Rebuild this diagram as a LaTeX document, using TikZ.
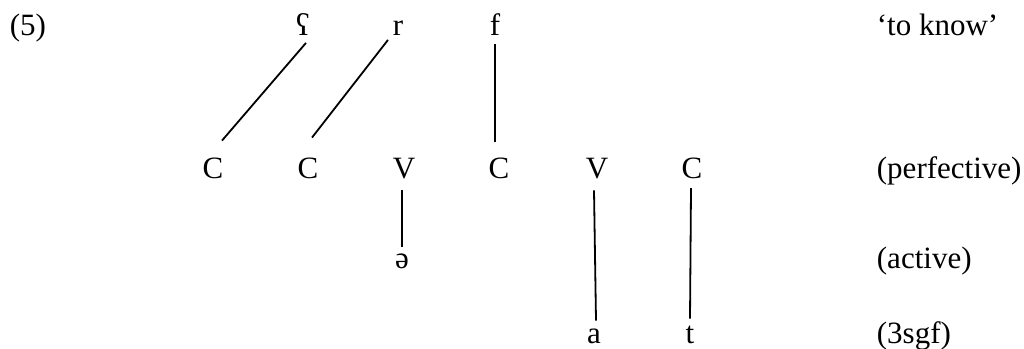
\documentclass[tikz,border=0pt]{standalone}
\usepackage{fontspec}
\setmainfont{Liberation Serif}

\begin{document}
\begin{tikzpicture}[x=1pt, y=-1pt, line width=1.8pt, line cap=butt,
  seg/.style={anchor=base, inner sep=0pt, font=\rmfamily\fontsize{31}{37}\selectfont},
  gloss/.style={anchor=base west, inner sep=0pt, font=\rmfamily\fontsize{31}{37}\selectfont}]

  %% ════ 编号 ════
  \node[gloss] (num) at (9,35) {(5)};

  %% ════ 词根层：ʕ r f ════
  \node[seg] (ain) at (303,35) {ʕ};
  \node[seg] (r)   at (398,35) {r};
  \node[seg] (f)   at (495,35) {f};

  %% ════ 骨架层：C C V C V C ════
  \node[seg] (c1) at (213,178) {C};
  \node[seg] (c2) at (308,178) {C};
  \node[seg] (v1) at (404,178) {V};
  \node[seg] (c3) at (499,178) {C};
  \node[seg] (v2) at (597,178) {V};
  \node[seg] (c4) at (692,178) {C};

  %% ════ 元音 / 后缀 ════
  \node[seg] (schwa) at (402,268) {ə};
  \node[seg] (a)     at (594,343) {a};
  \node[seg] (t)     at (690,343) {t};

  %% ════ 右侧注释 ════
  \node[gloss] (know)  at (876,35)  {‘to know’};
  \node[gloss] (perf)  at (876,178) {(perfective)};
  \node[gloss] (act)   at (876,268) {(active)};
  \node[gloss] (agr)   at (876,343) {(3sgf)};

  %% ════ 连线 ════
  \draw ([xshift=3pt,yshift=-7pt]ain.south) -- ([xshift=9pt,yshift=16pt]c1.north);
  \draw ([xshift=-10pt,yshift=-4pt]r.south) -- ([xshift=4pt,yshift=19pt]c2.north);
  \draw ([yshift=-8pt]f.south) -- ([xshift=-4pt,yshift=15pt]c3.north);
  \draw ([xshift=-2pt,yshift=-11pt]v1.south) -- ([yshift=5pt]schwa.north);
  \draw ([xshift=-3pt,yshift=-11pt]v2.south) -- ([xshift=2pt,yshift=7pt]a.north);
  \draw ([xshift=-1pt,yshift=-9pt]c4.south) -- ([yshift=6pt]t.north);

  % 画布固定
  \pgfresetboundingbox
  \path[use as bounding box] (0,0) rectangle (1024,348);
\end{tikzpicture}
\end{document}
